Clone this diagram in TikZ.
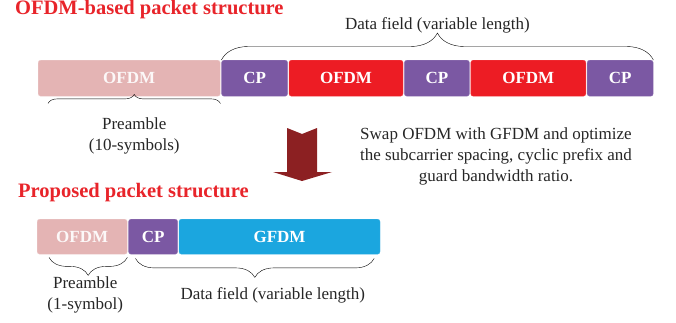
\documentclass[tikz,border=0pt]{standalone}
\usepackage{fontspec}
\setmainfont{Liberation Serif}
\usetikzlibrary{positioning,decorations.pathreplacing}
\definecolor{titlered}{RGB}{232,36,42}
\definecolor{prepink}{RGB}{228,180,180}
\definecolor{cppurple}{RGB}{123,88,163}
\definecolor{ofdmred}{RGB}{237,28,36}
\definecolor{gfdmblue}{RGB}{27,166,223}
\definecolor{arrowred}{RGB}{140,32,34}
\tikzset{
    pkt/.style={rounded corners=2.5pt, minimum height=36pt, inner sep=0, text=white, font=\fontsize{17}{17}\selectfont\bfseries},
    pre/.style={pkt, fill=prepink, draw=prepink!70!white, text=white!90!prepink},
    cp/.style={pkt, fill=cppurple, draw=cppurple!80!white},
    ofdm/.style={pkt, fill=ofdmred, draw=ofdmred!85!white},
    gfdm/.style={pkt, fill=gfdmblue, draw=gfdmblue!85!white},
    curly/.style={decorate, decoration={brace, amplitude=#1}, thin},
    lbl/.style={inner sep=0, font=\fontsize{17}{21}\selectfont, text=black!85},
    ttl/.style={inner sep=0, font=\fontsize{20.5}{20.5}\selectfont\bfseries, text=titlered}
}

\begin{document}
\begin{tikzpicture}[x=1pt, y=1pt]
    \useasboundingbox (0,0) rectangle (676,322);

    % OFDM-based packet
    \node[ttl, anchor=west] (title1) at (15,312) {OFDM-based packet structure};
    \node[pre, minimum width=182pt, anchor=north west] (pre1) at (38,262) {OFDM};
    \node[cp, minimum width=66pt, right=1pt of pre1] (cp1) {CP};
    \node[ofdm, minimum width=114pt, right=1pt of cp1] (ofdm1) {OFDM};
    \node[cp, minimum width=65pt, right=1pt of ofdm1] (cp2) {CP};
    \node[ofdm, minimum width=115pt, right=1pt of cp2] (ofdm2) {OFDM};
    \node[cp, minimum width=66pt, right=1pt of ofdm2] (cp3) {CP};

    \draw[curly=27pt] (cp1.north west) -- (cp3.north east)
        node[lbl, midway, yshift=35pt] (data1) {Data field (variable length)};
    \draw[curly=9pt] ([xshift=10pt, yshift=-7pt]pre1.south west) -- ([yshift=-7pt]pre1.south east)
        node[lbl, midway, yshift=-33pt, align=center] (pream1) {Preamble\\(10-symbols)};

    % arrow and note
    \fill[arrowred] (287,194) -- (302,188) -- (317,194) -- (317,150) -- (332,150)
        -- (302,141) -- (273,150) -- (287,150) -- cycle;
    \node[lbl, align=center] (note) at (496,166)
        {Swap OFDM with GFDM and optimize\\the subcarrier spacing, cyclic prefix and\\guard bandwidth ratio.};

    % proposed packet
    \node[ttl, anchor=west] (title2) at (18,129) {Proposed packet structure};
    \node[pre, minimum width=90pt, minimum height=35pt, anchor=north west] (pre2) at (37,103) {OFDM};
    \node[cp, minimum width=49pt, minimum height=35pt, right=1pt of pre2] (cp4) {CP};
    \node[gfdm, minimum width=201pt, minimum height=35pt, right=1pt of cp4] (gfdm1) {GFDM};

    \draw[curly=18pt] ([yshift=-3pt]pre2.south east) -- ([xshift=12pt, yshift=-3pt]pre2.south west)
        node[lbl, midway, xshift=-3pt, yshift=-37.5pt, align=center] (pream2) {Preamble\\(1-symbol)};
    \draw[curly=19pt] ([xshift=-6pt, yshift=-4pt]gfdm1.south east) -- ([xshift=7pt, yshift=-4pt]cp4.south west)
        node[lbl, midway, xshift=18pt, yshift=-37pt] (data2) {Data field (variable length)};
\end{tikzpicture}
\end{document}
